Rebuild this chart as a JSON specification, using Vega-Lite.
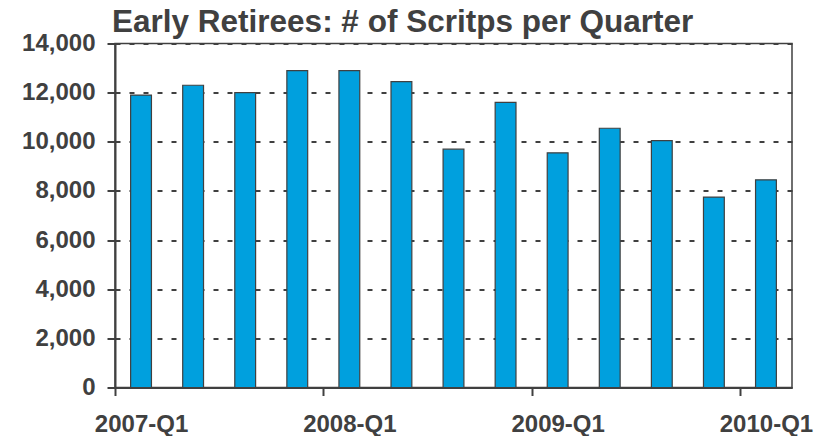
{
  "$schema": "https://vega.github.io/schema/vega-lite/v6.json",
  "width": 677,
  "height": 344,
  "autosize": {"type": "none"},
  "padding": {"left": 115, "top": 43.5, "right": 34, "bottom": 48.5},
  "background": "white",
  "title": {
    "text": "Early Retirees: # of Scritps per Quarter",
    "anchor": "start",
    "frame": "group",
    "font": "Liberation Sans",
    "fontSize": 31.5,
    "fontWeight": "bold",
    "color": "#404040",
    "baseline": "alphabetic",
    "offset": -32,
    "dx": -3
  },
  "config": {
    "view": {"stroke": "#404040", "strokeWidth": 1.5},
    "axis": {
      "labelFont": "Liberation Sans",
      "labelFontWeight": "bold",
      "labelFontSize": 24,
      "labelColor": "#404040",
      "domainColor": "#404040",
      "domainWidth": 2,
      "tickColor": "#404040",
      "tickWidth": 2,
      "tickSize": 8,
      "title": null
    }
  },
  "data": {
    "values": [
      {"quarter": "2007-Q1", "scripts": 11900},
      {"quarter": "2007-Q2", "scripts": 12300},
      {"quarter": "2007-Q3", "scripts": 12000},
      {"quarter": "2007-Q4", "scripts": 12900},
      {"quarter": "2008-Q1", "scripts": 12900},
      {"quarter": "2008-Q2", "scripts": 12450},
      {"quarter": "2008-Q3", "scripts": 9700},
      {"quarter": "2008-Q4", "scripts": 11600},
      {"quarter": "2009-Q1", "scripts": 9550},
      {"quarter": "2009-Q2", "scripts": 10550},
      {"quarter": "2009-Q3", "scripts": 10050},
      {"quarter": "2009-Q4", "scripts": 7750},
      {"quarter": "2010-Q1", "scripts": 8450}
    ]
  },
  "mark": {"type": "bar", "color": "#00A0DE", "stroke": "#404040", "strokeWidth": 1.2},
  "encoding": {
    "x": {
      "field": "quarter",
      "type": "ordinal",
      "sort": null,
      "scale": {"paddingInner": 0.6, "paddingOuter": 0.3},
      "axis": {
        "values": ["2007-Q1", "2008-Q1", "2009-Q1", "2010-Q1"],
        "labelAngle": 0,
        "tickOffset": -26,
        "labelOffset": 26,
        "labelPadding": 17,
        "labelBaseline": "top",
        "grid": false
      }
    },
    "y": {
      "field": "scripts",
      "type": "quantitative",
      "scale": {"domain": [0, 14000], "nice": false},
      "axis": {
        "values": [0, 2000, 4000, 6000, 8000, 10000, 12000, 14000],
        "format": ",d",
        "labelPadding": 12,
        "grid": true,
        "gridColor": "#404040",
        "gridWidth": 2,
        "gridDash": [5, 9]
      }
    }
  }
}
